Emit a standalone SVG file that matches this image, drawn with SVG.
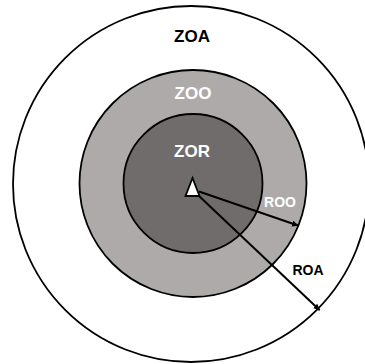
<svg xmlns="http://www.w3.org/2000/svg" width="365" height="364" viewBox="0 0 365 364">
<style>
.ring{stroke:#000;stroke-width:1.8}
.lbl{font-family:"Liberation Sans",Arial,sans-serif;font-weight:bold;text-anchor:middle}
.conn{stroke:#000;stroke-width:2;fill:none;marker-end:url(#ah)}
</style>
<defs>
<marker id="ah" markerWidth="7" markerHeight="7" refX="6" refY="3.5" orient="auto" markerUnits="userSpaceOnUse">
<path d="M0,0.5 L7,3.5 L0,6.5 Z" fill="#000"/>
</marker>
</defs>
<rect width="365" height="364" fill="#fff"/>
<g id="zoa"><circle class="ring" cx="191" cy="184" r="178" fill="#fff"/><text class="lbl" x="192" y="42" font-size="17" fill="#000">ZOA</text></g>
<g id="zoo"><circle class="ring" cx="193" cy="183.5" r="113.5" fill="#aeaaaa"/><text class="lbl" x="193" y="99" font-size="17" fill="#fff">ZOO</text></g>
<g id="zor"><circle class="ring" cx="193" cy="183.5" r="69.5" fill="#706c6c"/><text class="lbl" x="192" y="157" font-size="17" fill="#fff">ZOR</text></g>
<g id="agent"><polygon points="192.5,178 185.5,196 199.5,196" fill="#fff" stroke="#000" stroke-width="1.8"/></g>
<g id="connectors">
<line class="conn" x1="199" y1="191.5" x2="298" y2="225.5"/>
<line class="conn" x1="199" y1="196" x2="319.5" y2="310"/>
</g>
<text class="lbl" x="280" y="207" font-size="14" fill="#fff">ROO</text>
<text class="lbl" x="308" y="275" font-size="14" fill="#000">ROA</text>
</svg>
